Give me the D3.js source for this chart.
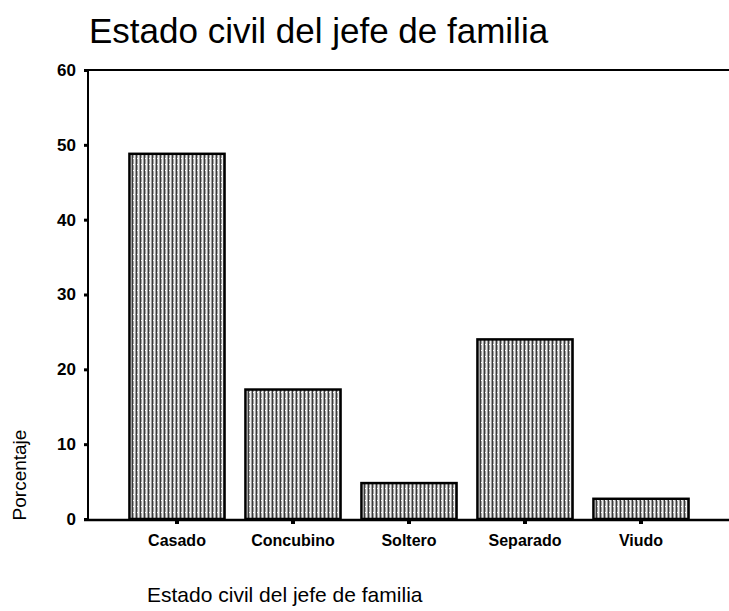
<!DOCTYPE html>
<html><head><meta charset="utf-8">
<script src="https://cdn.jsdelivr.net/npm/d3@7/dist/d3.min.js"></script>
<style>body{margin:0;background:#fff}svg{display:block}</style>
</head><body>
<script>
const categories = ["Casado","Concubino","Soltero","Separado","Viudo"];
const values = [48.8, 17.3, 4.8, 24.0, 2.7];
const yTicks = [0,10,20,30,40,50,60];
const title = "Estado civil del jefe de familia";
const xTitle = "Estado civil del jefe de familia";
const yTitle = "Porcentaje";

const W = 729, H = 611;
const FONT = "Liberation Sans, Arial, sans-serif";
const svg = d3.select("body").append("svg").attr("width", W).attr("height", H);
const defs = svg.append("defs");
const pat = defs.append("pattern").attr("id","tex").attr("patternUnits","userSpaceOnUse")
  .attr("width",4).attr("height",6);
pat.append("rect").attr("width",4).attr("height",6).attr("fill","#a0a0a0");
pat.append("rect").attr("x",0).attr("width",1).attr("height",6).attr("fill","#3a3a3a");
pat.append("rect").attr("x",2).attr("width",1).attr("height",6).attr("fill","#f0f0f0");
pat.append("rect").attr("x",1).attr("y",2).attr("width",1).attr("height",1).attr("fill","#fff");

const x0 = 88, yTop = 70, yBot = 519;
const y = d3.scaleLinear().domain([0,60]).range([yBot, yTop]);
const x = d3.scaleBand().domain(categories).range([119, 699]).paddingInner(0.18).paddingOuter(0.09);

// bars
svg.append("g").selectAll("rect").data(categories).join("rect")
  .attr("x", d => x(d)).attr("width", x.bandwidth())
  .attr("y", (d,i) => y(values[i])).attr("height", (d,i) => yBot - y(values[i]))
  .attr("fill","url(#tex)").attr("stroke","#000").attr("stroke-width",2.5);

// axes lines
svg.append("line").attr("x1",x0).attr("x2",x0).attr("y1",yTop).attr("y2",yBot+1).attr("stroke","#000").attr("stroke-width",2);
svg.append("line").attr("x1",x0).attr("x2",W).attr("y1",yTop).attr("y2",yTop).attr("stroke","#000").attr("stroke-width",2);
svg.append("line").attr("x1",x0-4).attr("x2",W).attr("y1",yBot+1).attr("y2",yBot+1).attr("stroke","#000").attr("stroke-width",2.5);

// y axis
const ya = svg.append("g").attr("transform",`translate(${x0},0)`)
  .call(d3.axisLeft(y).tickValues(yTicks).tickSize(4).tickPadding(8));
ya.select(".domain").remove();
ya.selectAll(".tick line").attr("stroke","#000").attr("stroke-width",3);
ya.selectAll(".tick text").attr("font-family",FONT)
  .attr("font-size",17).attr("font-weight","bold").attr("fill","#000");

// x axis
const xa = svg.append("g").attr("transform",`translate(0,${yBot+1})`)
  .call(d3.axisBottom(x).tickSize(4).tickPadding(11));
xa.select(".domain").remove();
xa.selectAll(".tick line").attr("stroke","#000").attr("stroke-width",4);
xa.selectAll(".tick text").attr("font-family",FONT)
  .attr("font-size",16).attr("font-weight","bold").attr("fill","#000");

// titles
svg.append("text").attr("x",89).attr("y",43).text(title)
  .attr("font-family",FONT).attr("font-size",35).attr("fill","#000");
svg.append("text").attr("x",147).attr("y",602).text(xTitle)
  .attr("font-family",FONT).attr("font-size",21).attr("fill","#000");
svg.append("text").attr("transform","translate(26,475) rotate(-90)").attr("text-anchor","middle").text(yTitle)
  .attr("font-family",FONT).attr("font-size",19).attr("fill","#000");
</script>
</body></html>
